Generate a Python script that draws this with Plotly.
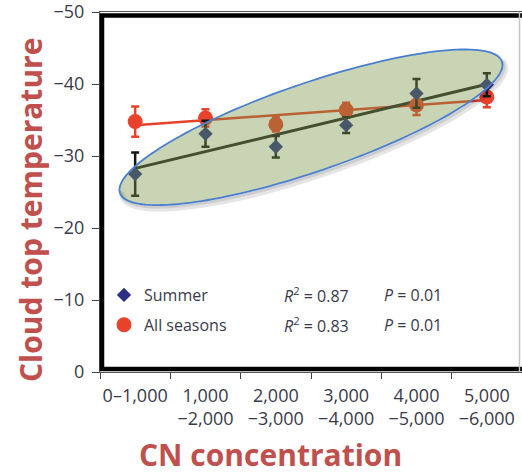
import numpy as np
import plotly.graph_objects as go

# --- data -------------------------------------------------------------
categories = ["0–1,000", "1,000<br>−2,000", "2,000<br>−3,000",
              "3,000<br>−4,000", "4,000<br>−5,000", "5,000<br>−6,000"]
summer_temp = [-27.5, -33.1, -31.3, -34.3, -38.7, -39.9]
summer_err = [3.0, 1.8, 1.5, 1.1, 2.0, 1.6]
all_temp = [-34.8, -35.3, -34.4, -36.4, -37.1, -38.2]
all_err = [2.1, 1.2, 1.0, 1.0, 1.4, 1.4]
y_tick_vals = [-50, -40, -30, -20, -10, 0]
y_tick_text = ["−50", "−40", "−30", "−20", "−10", "0"]
series_names = ["Summer", "All seasons"]
r_squared = ["0.87", "0.83"]
p_values = ["0.01", "0.01"]

# --- styling ----------------------------------------------------------
W, H = 522, 474
M_L, M_R, M_T, M_B = 100, 0, 12, 102
PW, PH = W - M_L - M_R, H - M_T - M_B
X_RANGE = [-0.5, 5.5]
Y_RANGE = [0, -50.02]

NAVY = "#2b3180"
RED = "#e8412c"
TXT = "#3a3a4a"
TITLE_RED = "#c0504d"
TICK_FONT = dict(family="Open Sans", size=18, color=TXT)
LEG_FONT = dict(family="Open Sans", size=16, color=TXT)
TITLE_FONT = dict(family="Open Sans", size=30, color=TITLE_RED, weight="bold")


def px_to_paper_x(px):
    return (px - M_L) / PW


def px_to_paper_y(py):
    return (H - M_B - py) / PH


idx = np.arange(len(categories))
summer_fit = np.polyval(np.polyfit(idx, summer_temp, 1), idx)
all_fit = np.polyval(np.polyfit(idx, all_temp, 1), idx)

fig = go.Figure()

# regression lines
fig.add_trace(go.Scatter(x=categories, y=all_fit, mode="lines",
                         line=dict(color=RED, width=2.5),
                         showlegend=False, hoverinfo="skip"))
fig.add_trace(go.Scatter(x=categories, y=summer_fit, mode="lines",
                         line=dict(color="#222222", width=3),
                         showlegend=False, hoverinfo="skip"))

# observations with error bars
fig.add_trace(go.Scatter(
    x=categories, y=all_temp, mode="markers", name=series_names[1],
    legendgroup="b", legendrank=2,
    marker=dict(symbol="circle", size=15, color=RED),
    error_y=dict(type="data", array=all_err, color=RED, thickness=2.5, width=4),
))
fig.add_trace(go.Scatter(
    x=categories, y=summer_temp, mode="markers", name=series_names[0],
    legendgroup="a", legendrank=1,
    marker=dict(symbol="diamond", size=11, color=NAVY),
    error_y=dict(type="data", array=summer_err, color="#151515", thickness=2.5, width=4),
))

# highlighted ellipse around the trend (defined in pixels, drawn in paper units)
ell_cx = (2.5 - X_RANGE[0]) / (X_RANGE[1] - X_RANGE[0])
ell_cy = (-34.0 - Y_RANGE[0]) / (Y_RANGE[1] - Y_RANGE[0])
ell_a, ell_b, ell_ang = 202.0, 44.0, np.radians(19.0)


def ellipse_path(t, off_x=0.0, off_y=0.0, close=True):
    dx = ell_a * np.cos(t) * np.cos(ell_ang) - ell_b * np.sin(t) * np.sin(ell_ang) + off_x
    dy = ell_a * np.cos(t) * np.sin(ell_ang) + ell_b * np.sin(t) * np.cos(ell_ang) + off_y
    xs = ell_cx + dx / PW
    ys = ell_cy + dy / PH
    pts = [f"{x:.5f},{y:.5f}" for x, y in zip(xs, ys)]
    return "M " + " L ".join(pts) + (" Z" if close else "")


shadow_t = np.linspace(np.pi * 0.97, np.pi * 2.03, 80)
shapes = [
    # soft shadow under the lower edge
    dict(type="path", xref="paper", yref="paper",
         path=ellipse_path(shadow_t, 2.5, -3.5, close=False),
         line=dict(color="rgba(0,0,0,0.10)", width=6), layer="above"),
    dict(type="path", xref="paper", yref="paper",
         path=ellipse_path(shadow_t, 1.5, -2.0, close=False),
         line=dict(color="rgba(0,0,0,0.10)", width=3), layer="above"),
    dict(type="path", xref="paper", yref="paper",
         path=ellipse_path(np.linspace(0, 2 * np.pi, 160)),
         fillcolor="rgba(118,148,68,0.40)",
         line=dict(color="#4a7fcf", width=1.8), layer="above"),
    # thick frame
    dict(type="rect", xref="paper", yref="paper",
         x0=px_to_paper_x(102), x1=1.2, y0=px_to_paper_y(369), y1=px_to_paper_y(15.5),
         line=dict(color="black", width=4.5), layer="above"),
    # thin right border
    dict(type="line", xref="paper", yref="paper",
         x0=px_to_paper_x(519.5), x1=px_to_paper_x(519.5), y0=0, y1=1,
         line=dict(color="#c4c4c4", width=1.5), layer="above"),
]

annotations = [
    dict(text="Cloud top temperature", xref="paper", yref="paper",
         x=px_to_paper_x(30), y=px_to_paper_y(210), textangle=-90,
         xanchor="center", yanchor="middle", showarrow=False, font=TITLE_FONT),
    dict(text="CN concentration", xref="paper", yref="paper",
         x=px_to_paper_x(270), y=px_to_paper_y(454),
         xanchor="center", yanchor="middle", showarrow=False, font=TITLE_FONT),
]
for row, (r2, pv) in enumerate(zip(r_squared, p_values)):
    yy = px_to_paper_y(295 + 30 * row)
    annotations.append(dict(text=f"<i>R</i><sup>2</sup> = {r2}", xref="paper", yref="paper",
                            x=px_to_paper_x(282), y=yy, xanchor="left", yanchor="middle",
                            showarrow=False, font=LEG_FONT))
    annotations.append(dict(text=f"<i>P</i> = {pv}", xref="paper", yref="paper",
                            x=px_to_paper_x(382), y=yy, xanchor="left", yanchor="middle",
                            showarrow=False, font=LEG_FONT))

fig.update_layout(
    width=W, height=H,
    margin=dict(l=M_L, r=M_R, t=M_T, b=M_B, pad=0),
    paper_bgcolor="white", plot_bgcolor="white",
    shapes=shapes, annotations=annotations,
    legend=dict(x=px_to_paper_x(104), y=px_to_paper_y(278), xanchor="left", yanchor="top",
                font=LEG_FONT, bgcolor="rgba(0,0,0,0)", borderwidth=0,
                tracegroupgap=6, traceorder="grouped"),
    xaxis=dict(type="category", range=X_RANGE, tickson="boundaries", tickangle=0,
               showgrid=False, zeroline=False, showline=True, linecolor="#555555",
               linewidth=1.2, mirror=True, ticks="outside", ticklen=6, tickwidth=1.3,
               tickcolor="#444444", tickfont=TICK_FONT, ticklabelstandoff=7,
               fixedrange=True),
    yaxis=dict(range=Y_RANGE, tickvals=y_tick_vals, ticktext=y_tick_text,
               showgrid=False, zeroline=False, showline=True, linecolor="#555555",
               linewidth=1.2, ticks="outside", ticklen=7, tickwidth=1.3,
               tickcolor="#444444", tickfont=TICK_FONT, ticklabeloverflow="allow",
               ticklabelstandoff=4, fixedrange=True),
)

fig.write_html("out.html")
